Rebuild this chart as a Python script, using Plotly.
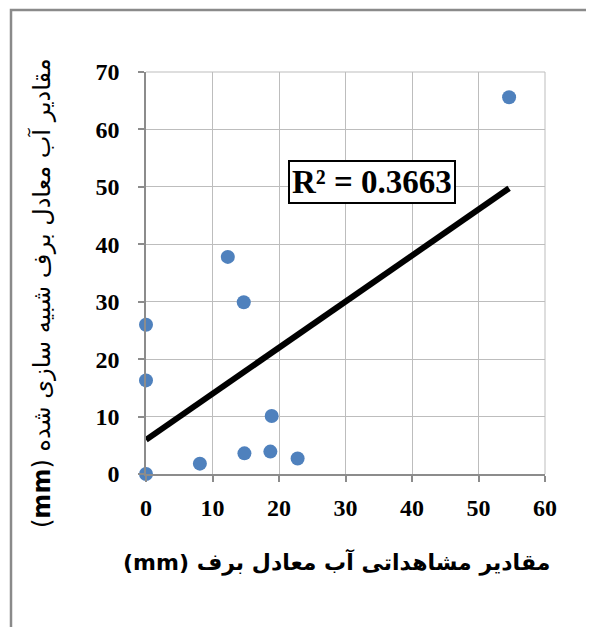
import numpy as np
import plotly.graph_objects as go

# Observed (x) vs simulated (y) snow water equivalent, mm
obs_x = [54.6, 12.3, 14.7, 0.0, 0.0, 18.9, 14.8, 18.7, 22.8, 8.1, 0.0]
sim_y = [65.6, 37.8, 29.9, 26.0, 16.3, 10.1, 3.6, 3.9, 2.7, 1.8, 0.0]
x_ticks = [0, 10, 20, 30, 40, 50, 60]
y_ticks = [0, 10, 20, 30, 40, 50, 60, 70]
r2_label = "R² = 0.3663"
# unit written first so that it sits at the left end (reads right-to-left)
x_title = "(mm) مقادیر مشاهداتی آب معادل برف"
y_title = "(<b>mm</b>) مقادیر آب معادل برف شبیه سازی شده"

slope, intercept = np.polyfit(obs_x, sim_y, 1)
trend_x = [min(obs_x), max(obs_x)]
trend_y = [slope * v + intercept for v in trend_x]

OFF = 8  # page offset of the figure (body margin)
W, H = 594, 627
L, T = 146 - OFF, 72 - OFF
pw, ph = 399, 402
R = W - L - pw
B = H - T - ph

def px(xp):
    return (xp - OFF - L) / pw

def py(yp):
    return (T + ph + OFF - yp) / ph

serif = "Times New Roman, Liberation Serif, DejaVu Serif, serif"

fig = go.Figure()
fig.add_trace(go.Scatter(
    x=trend_x, y=trend_y, mode="lines",
    line=dict(color="black", width=6), hoverinfo="skip", showlegend=False,
    cliponaxis=False,
))
fig.add_trace(go.Scatter(
    x=obs_x, y=sim_y, mode="markers",
    marker=dict(color="#4F81BD", size=14, line=dict(width=0)),
    showlegend=False, cliponaxis=False,
))

axis_common = dict(
    showgrid=True, gridcolor="#bdbdbd", gridwidth=1,
    zeroline=False, showline=True, linecolor="#8c8c8c", linewidth=1.5,
    ticks="outside", ticklen=6, tickcolor="#8c8c8c", tickwidth=1.5,
    tickfont=dict(family=serif, size=24, color="black", weight="bold"),
    mirror=False,
)

fig.update_layout(
    width=W, height=H,
    margin=dict(l=L, r=R, t=T, b=B),
    paper_bgcolor="white", plot_bgcolor="white",
    xaxis=dict(range=[0, 60], tickvals=x_ticks, ticklabelstandoff=5, **axis_common),
    yaxis=dict(range=[0, 70], tickvals=y_ticks, ticklabelstandoff=14, **axis_common),
    shapes=[
        dict(type="rect", xref="paper", yref="paper",
             x0=px(11), x1=px(640), y0=py(680), y1=py(10),
             line=dict(color="#8a8a8a", width=2.5), fillcolor="rgba(0,0,0,0)", layer="below"),
        dict(type="line", xref="paper", yref="paper",
             x0=1, x1=1, y0=0, y1=1, line=dict(color="#bdbdbd", width=1)),
        dict(type="line", xref="paper", yref="paper",
             x0=0, x1=1, y0=1, y1=1, line=dict(color="#bdbdbd", width=1)),
    ],
    annotations=[
        dict(text=r2_label, xref="paper", yref="paper", x=px(372), y=py(182),
             showarrow=False, xanchor="center", yanchor="middle",
             font=dict(family=serif, size=33, color="black", weight="bold"),
             bgcolor="white", bordercolor="black", borderwidth=2, borderpad=2),
        dict(text=x_title, xref="paper", yref="paper", x=px(336), y=py(562),
             showarrow=False, xanchor="center", yanchor="middle",
             font=dict(family="DejaVu Sans, sans-serif", size=22, color="black", weight="bold")),
        dict(text=y_title, xref="paper", yref="paper", x=px(41), y=py(293),
             showarrow=False, xanchor="center", yanchor="middle", textangle=-90,
             font=dict(family="DejaVu Sans, sans-serif", size=24, color="black")),
    ],
)

fig.write_html("out.html", config={"displayModeBar": False})
